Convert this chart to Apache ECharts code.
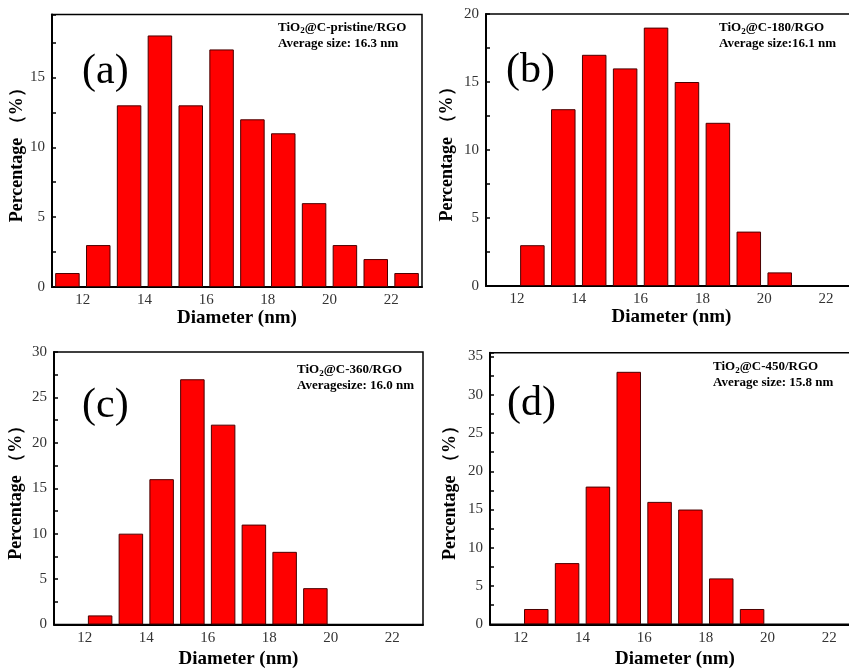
<!DOCTYPE html>
<html>
<head>
<meta charset="utf-8">
<script src="https://cdn.jsdelivr.net/npm/echarts@6/dist/echarts.min.js"></script>
<style>
    html, body { margin: 0; padding: 0; background: #fff; }
    #chart { width: 849px; height: 668px; }
</style>
</head>
<body>
<div id="chart"></div>
<script>
// bin centres (nm) shared by the four histograms
const binCenters = [11.5, 12.5, 13.5, 14.5, 15.5, 16.5, 17.5, 18.5, 19.5, 20.5, 21.5, 22.5]

// percentage per bin, null = no bar
const pctPristine = [1, 3, 13, 18, 13, 17, 12, 11, 6, 3, 2, 1]
const pct180 = [null, 3, 13, 17, 16, 19, 15, 12, 4, 1, null, null]
const pct360 = [null, 1, 10, 16, 27, 22, 11, 8, 4, null, null, null]
const pct450 = [null, 2, 8, 18, 33, 16, 15, 6, 2, null, null, null]

const panelLetters = ['(a)', '(b)', '(c)', '(d)']
const sampleNames = ['C-pristine/RGO', 'C-180/RGO', 'C-360/RGO', 'C-450/RGO']
const sizeNotes = ['Average size: 16.3 nm', 'Average size:16.1 nm', 'Averagesize: 16.0 nm', 'Average size: 15.8 nm']

const serif = '"Liberation Serif", "Times New Roman", serif'

// layout of each panel (pixels)
const panels = [
    { values: pctPristine, left: 52, top: 14.5, width: 370, height: 272.5, yMax: 19.5, xGap: 9, yGap: 25, letter: [82, 51], note: [278, 19.5] },
    { values: pct180, left: 486, top: 14, width: 371, height: 272, yMax: 20, xGap: 22, yGap: 30, letter: [506, 50], note: [719, 20] },
    { values: pct360, left: 54, top: 352, width: 369, height: 272.5, yMax: 30, xGap: 25, yGap: 29, letter: [82, 385], note: [297, 362] },
    { values: pct450, left: 490, top: 352.7, width: 370, height: 271.6, yMax: 35.5, xGap: 25, yGap: 31, letter: [507, 383], note: [713, 359] }
]

const chart = echarts.init(document.getElementById('chart'))

const grid = [], xAxis = [], yAxis = [], series = [], title = []

panels.forEach((p, i) => {
    grid.push({
        left: p.left, top: p.top, width: p.width, height: p.height,
        show: true, borderColor: '#000', borderWidth: 1.5,
        containLabel: false, outerBoundsMode: 'none'
    })
    xAxis.push({
        gridIndex: i, type: 'value', min: 11, max: 23, interval: 1,
        axisLine: { onZero: false, lineStyle: { color: '#000', width: 2 } },
        axisTick: { show: false },
        splitLine: { show: false },
        axisLabel: {
            formatter: v => (v % 2 === 0 ? String(v) : ''),
            color: '#333', fontFamily: serif, fontSize: 15, margin: 6
        },
        name: 'Diameter (nm)', nameLocation: 'middle', nameGap: p.xGap,
        nameTextStyle: { fontFamily: serif, fontWeight: 'bold', fontSize: 19, color: '#000', verticalAlign: 'top' }
    })
    yAxis.push({
        gridIndex: i, type: 'value', min: 0, max: p.yMax, interval: 2.5,
        axisLine: { show: true, onZero: false, lineStyle: { color: '#000', width: 2 } },
        axisTick: { show: true, inside: true, length: 4, lineStyle: { color: '#000', width: 1.5 } },
        splitLine: { show: false },
        axisLabel: {
            formatter: v => (v % 5 === 0 ? String(v) : ''),
            color: '#333', fontFamily: serif, fontSize: 15, margin: 7
        },
        name: 'Percentage （%）', nameLocation: 'middle', nameGap: p.yGap,
        nameTextStyle: { fontFamily: serif, fontWeight: 'bold', fontSize: 18, color: '#000' }
    })
    series.push({
        type: 'bar', xAxisIndex: i, yAxisIndex: i,
        data: binCenters.map((x, k) => [x, p.values[k]]).filter(d => d[1] != null),
        barWidth: 24.5,
        itemStyle: { color: '#ff0000', borderColor: '#4a0000', borderWidth: 1 },
        silent: true
    })
    // (a) (b) ...
    title.push({
        text: panelLetters[i], left: p.letter[0], top: p.letter[1], padding: 0,
        textStyle: { fontFamily: serif, fontSize: 42, fontWeight: 'normal', color: '#000', lineHeight: 42 }
    })
    // sample name + average size
    title.push({
        text: '{b|TiO}{s|2}{b|@' + sampleNames[i] + '}\n{b|' + sizeNotes[i] + '}',
        left: p.note[0], top: p.note[1], padding: 0,
        textStyle: {
            rich: {
                b: { fontFamily: serif, fontSize: 13, fontWeight: 'bold', color: '#000', lineHeight: 16 },
                s: { fontFamily: serif, fontSize: 9, fontWeight: 'bold', color: '#000', lineHeight: 9, verticalAlign: 'bottom' }
            }
        }
    })
})

chart.setOption({
    animation: false,
    backgroundColor: '#fff',
    title: title,
    grid: grid,
    xAxis: xAxis,
    yAxis: yAxis,
    series: series
})

window.addEventListener('resize', () => {
    chart.resize()
})
</script>
</body>
</html>
